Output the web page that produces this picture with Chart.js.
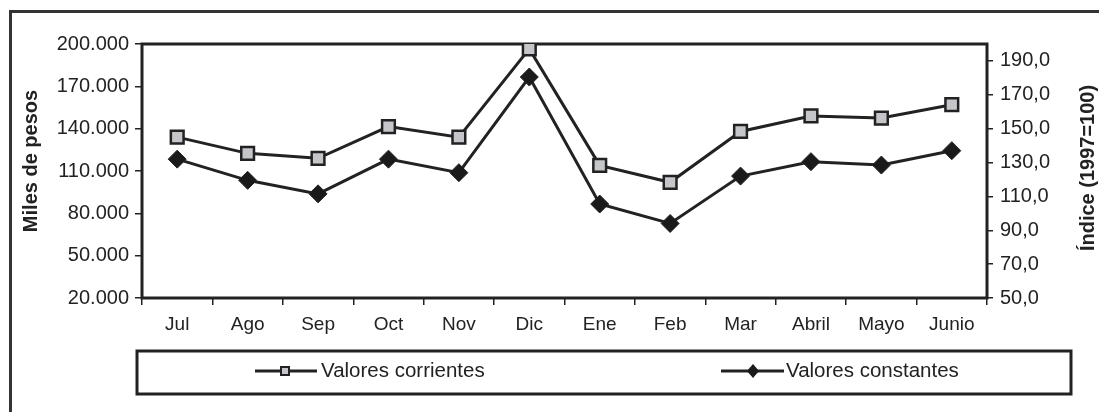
<!DOCTYPE html>
<html>
<head>
<meta charset="utf-8">
<script src="https://cdn.jsdelivr.net/npm/chart.js@4.4.1/dist/chart.umd.min.js"></script>
<style>
  body { margin: 0; background: #fff; }
  canvas { display: block; }
</style>
</head>
<body>
<canvas id="myChart" width="1099" height="412"></canvas>
<script>
const meses = ['Jul', 'Ago', 'Sep', 'Oct', 'Nov', 'Dic', 'Ene', 'Feb', 'Mar', 'Abril', 'Mayo', 'Junio'];
const corrientes = [134000, 122500, 119000, 141500, 134000, 196500, 114000, 102000, 138000, 149000, 147500, 157000];
const constantes = [132, 119.5, 111.5, 132, 124, 180.5, 105.5, 94, 122, 130.5, 128.5, 137];
const ticksIndice = [50, 70, 90, 110, 130, 150, 170, 190];
const nombres = ['Valores corrientes', 'Valores constantes'];
const titulos = ['Miles de pesos', 'Índice (1997=100)'];

const tinta = '#222';
const fuente = 'Liberation Sans, Arial, sans-serif';

function miles(v){
  return String(Math.round(v)).replace(/\B(?=(\d{3})+(?!\d))/g, '.');
}

// marco de la pagina, caja del grafico, titulos y leyenda
const marco = {
  id: 'marco',
  beforeDraw(chart){
    const ctx = chart.ctx;
    ctx.save();
    ctx.strokeStyle = '#333';
    ctx.lineWidth = 3;
    ctx.beginPath();
    ctx.moveTo(10.5, 412);
    ctx.lineTo(10.5, 11.5);
    ctx.lineTo(1099, 11.5);
    ctx.stroke();
    ctx.restore();
  },
  beforeDatasetsDraw(chart){
    const a = chart.chartArea;
    const ctx = chart.ctx;
    ctx.save();
    ctx.strokeStyle = tinta;
    ctx.lineWidth = 3;
    ctx.strokeRect(a.left, a.top, a.right - a.left, a.bottom - a.top);
    ctx.restore();
  },
  afterDraw(chart){
    const ctx = chart.ctx;
    ctx.save();
    // titulos de ejes, ambos leidos de abajo hacia arriba
    ctx.fillStyle = tinta;
    ctx.font = 'bold 20px ' + fuente;
    ctx.textAlign = 'center';
    ctx.textBaseline = 'middle';
    ctx.save(); ctx.translate(31, 161); ctx.rotate(-Math.PI / 2); ctx.fillText(titulos[0], 0, 0); ctx.restore();
    ctx.save(); ctx.translate(1088, 168); ctx.rotate(-Math.PI / 2); ctx.fillText(titulos[1], 0, 0); ctx.restore();

    ctx.strokeStyle = tinta;
    ctx.lineWidth = 3;
    ctx.strokeRect(137, 351, 934, 43);
    const yc = 371;
    // simbolo 1
    ctx.beginPath(); ctx.moveTo(255, yc); ctx.lineTo(317, yc); ctx.stroke();
    ctx.fillStyle = '#c4c6ca';
    ctx.lineWidth = 2;
    ctx.fillRect(281, yc - 4, 8, 8);
    ctx.strokeRect(281, yc - 4, 8, 8);
    // simbolo 2
    ctx.lineWidth = 3;
    ctx.beginPath(); ctx.moveTo(721, yc); ctx.lineTo(784, yc); ctx.stroke();
    ctx.fillStyle = '#1a1a1a';
    ctx.beginPath();
    ctx.moveTo(753, yc - 7); ctx.lineTo(759, yc); ctx.lineTo(753, yc + 7); ctx.lineTo(747, yc);
    ctx.closePath(); ctx.fill();
    ctx.fillStyle = tinta;
    ctx.font = '20.5px ' + fuente;
    ctx.textAlign = 'left';
    ctx.fillText(nombres[0], 321, yc);
    ctx.fillText(nombres[1], 786, yc);
    ctx.restore();
  }
};

const chart = new Chart(document.getElementById('myChart'), {
  type: 'line',
  data: {
    labels: meses,
    datasets: [{
      label: nombres[0],
      data: corrientes,
      yAxisID: 'y',
      borderColor: tinta,
      borderWidth: 3,
      pointStyle: 'rect',
      pointRadius: 9,
      pointBorderWidth: 2.5,
      pointBackgroundColor: '#c4c6ca',
      pointBorderColor: tinta,
      tension: 0
    }, {
      label: nombres[1],
      data: constantes,
      yAxisID: 'y1',
      borderColor: tinta,
      borderWidth: 3,
      pointStyle: 'rectRot',
      pointRadius: 9,
      pointBorderWidth: 1,
      pointBackgroundColor: '#1a1a1a',
      pointBorderColor: tinta,
      tension: 0
    }]
  },
  options: {
    responsive: false,
    animation: false,
    devicePixelRatio: 1,
    layout: { padding: { top: 44, left: 0, right: 0, bottom: 0 } },
    plugins: { legend: { display: false }, tooltip: { enabled: false } },
    scales: {
      x: {
        offset: true,
        grid: { offset: true, drawOnChartArea: false, tickLength: 7, color: tinta, lineWidth: 1.5 },
        border: { display: false },
        ticks: { color: tinta, font: { family: fuente, size: 19 }, padding: 8, maxRotation: 0 },
        afterFit(s){ s.height = 412 - 298; }
      },
      y: {
        position: 'left',
        min: 20000, max: 200000,
        grid: { drawOnChartArea: false, tickLength: 7, color: tinta, lineWidth: 1.5 },
        border: { display: false },
        ticks: { stepSize: 30000, color: tinta, font: { family: fuente, size: 20 }, padding: 6, callback: v => miles(v) },
        afterFit(s){ s.width = 142; }
      },
      y1: {
        position: 'right',
        min: 50, max: 200,
        grid: { drawOnChartArea: false, tickLength: 6, color: tinta, lineWidth: 1.5 },
        border: { display: false },
        afterBuildTicks(s){ s.ticks = ticksIndice.map(v => ({ value: v })); },
        ticks: { color: tinta, font: { family: fuente, size: 20 }, padding: 7, callback: v => v.toFixed(1).replace('.', ',') },
        afterFit(s){ s.width = 1099 - 987; }
      }
    }
  },
  plugins: [marco]
});
</script>
</body>
</html>
